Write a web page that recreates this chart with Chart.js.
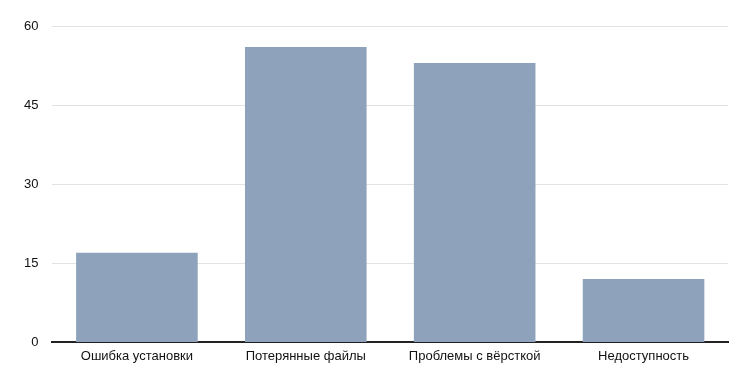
<!DOCTYPE html>
<html>
<head>
<meta charset="utf-8">
<script src="https://cdn.jsdelivr.net/npm/chart.js@4/dist/chart.umd.min.js"></script>
<style>
html,body{margin:0;padding:0;background:#fff;}
#wrap{width:740px;height:376px;position:relative;}
</style>
</head>
<body>
<div id="wrap"><canvas id="c"></canvas></div>
<script>
const categories = ["Ошибка установки", "Потерянные файлы", "Проблемы с вёрсткой", "Недоступность"];
const values = [17, 56, 53, 12];
const yTicks = [0, 15, 30, 45, 60];

new Chart(document.getElementById('c'), {
  type: 'bar',
  data: {
    labels: categories,
    datasets: [{
      data: values,
      backgroundColor: 'rgb(142,163,187)',
      borderWidth: 0,
      barPercentage: 0.9,
      categoryPercentage: 0.8
    }]
  },
  options: {
    responsive: true,
    maintainAspectRatio: false,
    animation: false,
    layout: { padding: { left: 10, right: 12, top: 26, bottom: 6 } },
    plugins: { legend: { display: false }, tooltip: { enabled: false } },
    scales: {
      x: {
        grid: { display: false, drawTicks: false },
        border: { display: true, color: '#222', width: 2 },
        ticks: { color: '#111', font: { family: 'Liberation Sans, Arial, sans-serif', size: 13 }, padding: 6 }
      },
      y: {
        min: 0, max: 60,
        afterBuildTicks: (s) => { s.ticks = yTicks.map(v => ({ value: v })); },
        grid: { color: '#e3e3e3', drawTicks: false, lineWidth: 1 },
        border: { display: false },
        ticks: { color: '#111', font: { family: 'Liberation Sans, Arial, sans-serif', size: 13 }, padding: 14 }
      }
    }
  }
});
</script>
</body>
</html>
